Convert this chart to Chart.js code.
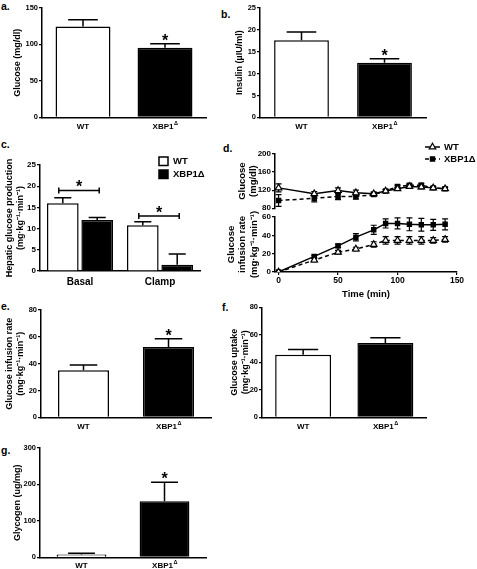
<!DOCTYPE html>
<html>
<head>
<meta charset="utf-8">
<script src="https://cdn.jsdelivr.net/npm/chart.js@4.4.1/dist/chart.umd.min.js"></script>
<style>
  body { margin: 0; background: #fff; width: 477px; height: 569px; position: relative; overflow: hidden;
         font-family: "Liberation Sans", Arial, sans-serif; }
  canvas { position: absolute; }
  .pl { position: absolute; font-weight: bold; font-size: 10.5px; line-height: 10px; }
</style>
</head>
<body>
<div class="pl" style="left:1px;top:1px">a.</div>
<div class="pl" style="left:221px;top:9px">b.</div>
<div class="pl" style="left:1px;top:139px">c.</div>
<div class="pl" style="left:223px;top:143px">d.</div>
<div class="pl" style="left:1px;top:301px">e.</div>
<div class="pl" style="left:222px;top:302px">f.</div>
<div class="pl" style="left:1px;top:445px">g.</div>

<canvas id="pa" width="214" height="135" style="left:0;top:0"></canvas>
<canvas id="pb" width="205" height="135" style="left:228px;top:0"></canvas>
<canvas id="pc" width="210" height="145" style="left:0;top:150px"></canvas>
<canvas id="pd1" width="252" height="74" style="left:225px;top:140px"></canvas>
<canvas id="pd2" width="252" height="99" style="left:225px;top:205px"></canvas>
<canvas id="pe" width="216" height="135" style="left:0;top:300px"></canvas>
<canvas id="pf" width="215" height="135" style="left:220px;top:300px"></canvas>
<canvas id="pg" width="214" height="134" style="left:0;top:435px"></canvas>

<script>
// ---- data ----
const groups = ['WT', 'XBP1Δ'];

// a. fasting glucose (mg/dl)
const glucoseMean = [124.5, 95.6];
const glucoseSem = [9.5, 5.4];

// b. insulin (µIU/ml)
const insulinMean = [17.6, 12.5];
const insulinSem = [1.9, 0.9];

// c. hepatic glucose production
const hgpCats = ['Basal', 'Clamp'];
const hgpWT = [16.0, 10.8];
const hgpWTSem = [1.3, 0.8];
const hgpKO = [12.0, 1.5];
const hgpKOSem = [0.6, 2.5];
const hgpBracket = [19.0, 13.0];

// d. clamp time course
const clampTime = [0, 30, 50, 65, 80, 90, 100, 110, 120, 130, 140];
const clampGluWT = [125, 112, 119, 114, 112, 118, 123, 128, 127, 125, 123];
const clampGluWTSem = [9, 5, 6, 6, 4, 3, 3, 4, 4, 3, 3];
const clampGluKO = [97, 102, 106, 106, 110, 118, 128, 131, 131, 125, 123];
const clampGluKOSem = [13, 8, 7, 6, 4, 3, 3, 3, 4, 3, 3];
const clampGirWT = [0, 13, 21.5, 25, 30, 34.5, 34.5, 34.5, 34.5, 34.5, 35.5];
const clampGirWTSem = [0, 2, 2, 2, 3, 4, 4, 4, 4, 3, 3];
const clampGirKO = [0, 17, 28.5, 38, 46, 53, 53, 52, 51.5, 51.5, 52];
const clampGirKOSem = [0, 1.5, 2, 4, 5, 5, 6, 7, 7, 6, 6];

// e. glucose infusion rate
const girMean = [35, 52.5];
const girSem = [4, 6];

// f. glucose uptake
const uptakeMean = [45.5, 54];
const uptakeSem = [3.8, 3.8];

// g. glycogen (ug/mg)
const glycogenMean = [8, 154];
const glycogenSem = [3, 52];

const FONT = "'Liberation Sans', Arial, sans-serif";
const UNIT = '(mg·kg⁻¹·min⁻¹)';
Chart.defaults.font.family = FONT;
Chart.defaults.font.weight = 'bold';
Chart.defaults.color = '#000';
Chart.defaults.animation = false;

// error bars from dataset.sem, upward for bars, both ways for lines
function errorBars(both) {
  const draw = chart => {
    const ctx = chart.ctx;
    chart.data.datasets.forEach((ds, di) => {
      if (!ds.sem) return;
      const meta = chart.getDatasetMeta(di);
      const ys = chart.scales[meta.yAxisID];
      meta.data.forEach((el, i) => {
        const e = ds.sem[i];
        if (!e) return;
        const v = typeof ds.data[i] === 'object' ? ds.data[i].y : ds.data[i];
        const top = ys.getPixelForValue(v + e);
        const bot = both ? ys.getPixelForValue(v - e) : el.y;
        const half = both ? 3 : el.width * 0.27;
        ctx.save();
        ctx.strokeStyle = '#000';
        ctx.lineWidth = both ? 1.2 : 1.5;
        ctx.beginPath();
        ctx.moveTo(el.x, bot); ctx.lineTo(el.x, top);
        ctx.moveTo(el.x - half, top); ctx.lineTo(el.x + half, top);
        if (both) { ctx.moveTo(el.x - half, bot); ctx.lineTo(el.x + half, bot); }
        ctx.stroke();
        ctx.restore();
      });
    });
  };
  return both ? { id: 'errorBars', beforeDatasetsDraw: draw } : { id: 'errorBars', afterDatasetsDraw: draw };
}

function drawStar(ctx, x, yCenter) {
  ctx.save();
  ctx.fillStyle = '#000';
  ctx.font = 'bold 16px ' + FONT;
  ctx.textAlign = 'center';
  ctx.textBaseline = 'middle';
  ctx.fillText('*', x, yCenter + 3.5);
  ctx.restore();
}

// star above the error cap of the chosen bar
function stars(list) {
  return {
    id: 'stars',
    afterDatasetsDraw(chart) {
      list.forEach(s => {
        const ds = chart.data.datasets[s.d];
        const el = chart.getDatasetMeta(s.d).data[s.i];
        const y = chart.scales.y.getPixelForValue(ds.data[s.i] + ds.sem[s.i]);
        drawStar(chart.ctx, el.x, y - 6);
      });
    }
  };
}

// category labels, with the Δ of XBP1Δ raised
function groupLabels(size, pad) {
  return {
    id: 'groupLabels',
    afterDraw(chart) {
      const ctx = chart.ctx, xs = chart.scales.x;
      chart.data.labels.forEach((lab, i) => {
        const x = xs.getPixelForTick(i);
        const y = xs.top + pad + size * 0.6;
        const sup = lab.endsWith('Δ');
        const base = sup ? lab.slice(0, -1) : lab;
        ctx.save();
        ctx.fillStyle = '#000';
        ctx.textBaseline = 'middle';
        ctx.textAlign = 'left';
        ctx.font = 'bold ' + size + 'px ' + FONT;
        const w1 = ctx.measureText(base).width;
        let w2 = 0;
        if (sup) {
          ctx.font = 'bold ' + (size * 0.7) + 'px ' + FONT;
          w2 = ctx.measureText('Δ').width;
        }
        const x0 = x - (w1 + w2) / 2;
        ctx.font = 'bold ' + size + 'px ' + FONT;
        ctx.fillText(base, x0, y);
        if (sup) {
          ctx.font = 'bold ' + (size * 0.7) + 'px ' + FONT;
          ctx.fillText('Δ', x0 + w1 + 0.5, y - size * 0.45);
        }
        ctx.restore();
      });
    }
  };
}

function yAxis(o) {
  return {
    min: o.min || 0, max: o.max,
    ticks: { stepSize: o.step, font: { size: o.tick }, padding: 1, color: '#000' },
    grid: { drawOnChartArea: false, tickLength: 3, color: '#000', lineWidth: 1.2 },
    border: { display: true, color: '#000', width: 1.5 },
    title: { display: true, text: o.title, color: '#000',
             font: { size: o.tsize, lineHeight: o.lh || 1.2 }, padding: { top: o.tpad, bottom: 0 } },
    afterFit: s => { s.width = o.w; }
  };
}

function barPanel(id, o) {
  return new Chart(document.getElementById(id), {
    type: 'bar',
    data: { labels: o.labels, datasets: o.datasets },
    options: {
      responsive: false, devicePixelRatio: 1,
      layout: { padding: { top: o.padTop, right: o.padRight, left: 0, bottom: 0 } },
      datasets: { bar: { categoryPercentage: o.cat || 1, barPercentage: o.bar } },
      scales: {
        x: {
          grid: { display: false, drawTicks: false },
          border: { display: true, color: '#000', width: 1.5 },
          ticks: { color: 'rgba(0,0,0,0)', font: { size: o.xsize }, padding: o.xpad, maxRotation: 0 },
          afterFit: s => { s.height = o.xh; }
        },
        y: yAxis(o.y)
      },
      plugins: { legend: { display: false }, tooltip: { enabled: false } }
    },
    plugins: [errorBars(false), groupLabels(o.xsize, o.xpad)].concat(o.extra || [])
  });
}

function groupSet(mean, sem) {
  return [{ data: mean, sem: sem, backgroundColor: ['#fff', '#000'], borderColor: '#000', borderWidth: 1.5 }];
}

// a.
barPanel('pa', {
  labels: groups, datasets: groupSet(glucoseMean, glucoseSem), bar: 0.67,
  padTop: 8, padRight: 8, xh: 17.7, xsize: 8, xpad: 5,
  y: { max: 150, step: 50, tick: 7.5, title: 'Glucose (mg/dl)', tsize: 9, tpad: 12, w: 42 },
  extra: [stars([{ d: 0, i: 1 }])]
});

// b.
barPanel('pb', {
  labels: groups, datasets: groupSet(insulinMean, insulinSem), bar: 0.66,
  padTop: 8, padRight: 7, xh: 17.7, xsize: 8, xpad: 5,
  y: { max: 25, step: 5, tick: 7.5, title: 'Insulin (µIU/ml)', tsize: 9, tpad: 6, w: 32 },
  extra: [stars([{ d: 0, i: 1 }])]
});

// c.
const hgpExtras = {
  id: 'hgpExtras',
  afterDraw(chart) {
    const ctx = chart.ctx, ys = chart.scales.y, ca = chart.chartArea;
    const m0 = chart.getDatasetMeta(0).data, m1 = chart.getDatasetMeta(1).data;
    ctx.save();
    ctx.strokeStyle = '#000';
    ctx.lineWidth = 1.5;
    hgpBracket.forEach((v, i) => {
      const y = ys.getPixelForValue(v), x1 = m0[i].x - 4, x2 = m1[i].x + 2;
      ctx.beginPath();
      ctx.moveTo(x1, y); ctx.lineTo(x2, y);
      ctx.moveTo(x1, y - 3); ctx.lineTo(x1, y + 3);
      ctx.moveTo(x2, y - 3); ctx.lineTo(x2, y + 3);
      ctx.stroke();
      drawStar(ctx, (x1 + x2) / 2, y - 6);
    });
    // legend
    const lx = ca.right - 41;
    chart.data.datasets.forEach((ds, i) => {
      const ty = 11 + i * 13;
      ctx.fillStyle = ds.backgroundColor;
      ctx.fillRect(lx, ty - 4, 9, 8.5);
      ctx.strokeRect(lx, ty - 4, 9, 8.5);
      ctx.fillStyle = '#000';
      ctx.font = 'bold 9.5px ' + FONT;
      ctx.textBaseline = 'middle';
      ctx.textAlign = 'left';
      ctx.fillText(ds.label, lx + 14, ty);
    });
    ctx.restore();
  }
};
barPanel('pc', {
  labels: hgpCats,
  datasets: [
    { label: 'WT', data: hgpWT, sem: hgpWTSem, backgroundColor: '#fff', borderColor: '#000', borderWidth: 1.5 },
    { label: 'XBP1Δ', data: hgpKO, sem: hgpKOSem, backgroundColor: '#000', borderColor: '#000', borderWidth: 1.5 }
  ],
  cat: 0.86, bar: 0.92,
  padTop: 15, padRight: 10, xh: 24, xsize: 10, xpad: 5,
  y: { max: 25, step: 5, tick: 8, title: ['Hepatic glucose production', UNIT], tsize: 9, tpad: 4, w: 40 },
  extra: [hgpExtras]
});

// d. two panels sharing the time axis
function lineSet(label, x, y, sem, dashed, square) {
  return {
    label: label,
    data: x.map((t, i) => ({ x: t, y: y[i] })),
    sem: sem,
    borderColor: '#000', borderWidth: 1.5, borderDash: dashed ? [4, 3] : [],
    pointStyle: square ? 'rect' : 'triangle',
    pointRadius: square ? 3 : 3.8,
    pointBackgroundColor: square ? '#000' : '#fff',
    pointBorderColor: '#000', pointBorderWidth: 1.2
  };
}
const timeMin = -3, timeMax = 150;
const clampLegend = {
  id: 'clampLegend',
  afterDraw(chart) {
    const ctx = chart.ctx, ca = chart.chartArea;
    const x0 = ca.right - 32;
    chart.data.datasets.forEach((ds, i) => {
      const y = 7 + i * 12;
      ctx.save();
      ctx.strokeStyle = '#000';
      ctx.lineWidth = 1.5;
      ctx.setLineDash(ds.borderDash);
      ctx.beginPath(); ctx.moveTo(x0, y); ctx.lineTo(x0 + 15, y); ctx.stroke();
      ctx.setLineDash([]);
      ctx.fillStyle = ds.pointBackgroundColor;
      ctx.lineWidth = 1.2;
      Chart.helpers.drawPoint(ctx, { pointStyle: ds.pointStyle, radius: ds.pointRadius, borderWidth: 1.2 }, x0 + 7.5, y);
      ctx.fillStyle = '#000';
      ctx.font = 'bold 9.5px ' + FONT;
      ctx.textBaseline = 'middle';
      ctx.textAlign = 'left';
      ctx.fillText(ds.label, x0 + 19, y);
      ctx.restore();
    });
  }
};

new Chart(document.getElementById('pd1'), {
  type: 'line',
  data: { datasets: [
    lineSet('WT', clampTime, clampGluWT, clampGluWTSem, false, false),
    lineSet('XBP1Δ', clampTime, clampGluKO, clampGluKOSem, true, true)
  ] },
  options: {
    responsive: false, devicePixelRatio: 1,
    layout: { padding: { top: 14, right: 20, left: 0, bottom: 5 } },
    scales: {
      x: { type: 'linear', min: timeMin, max: timeMax, display: false },
      y: yAxis({ min: 80, max: 200, step: 40, tick: 8, title: ['Glucose', '(mg/dl)'], tsize: 9.5, lh: 1.25, tpad: 11, w: 50 })
    },
    plugins: { legend: { display: false }, tooltip: { enabled: false } }
  },
  plugins: [errorBars(true), clampLegend]
});

new Chart(document.getElementById('pd2'), {
  type: 'line',
  data: { datasets: [
    lineSet('WT', clampTime, clampGirWT, clampGirWTSem, true, false),
    lineSet('XBP1Δ', clampTime, clampGirKO, clampGirKOSem, false, true)
  ] },
  options: {
    responsive: false, devicePixelRatio: 1,
    layout: { padding: { top: 12, right: 20, left: 0, bottom: 0 } },
    scales: {
      x: {
        type: 'linear', min: timeMin, max: timeMax,
        afterBuildTicks: s => { s.ticks = [0, 50, 100, 150].map(v => ({ value: v })); },
        ticks: { font: { size: 8.5 }, padding: 1, color: '#000' },
        grid: { drawOnChartArea: false, tickLength: 3, color: '#000', lineWidth: 1.2 },
        border: { display: true, color: '#000', width: 1.5 },
        title: { display: true, text: 'Time (min)', font: { size: 9.5 }, padding: { top: 0, bottom: 4 } },
        afterFit: s => { s.height = 32; }
      },
      y: yAxis({ min: 0, max: 60, step: 20, tick: 8, title: ['Glucose', 'infusion rate', UNIT], tsize: 9.5, lh: 1.25, tpad: 0, w: 50 })
    },
    plugins: { legend: { display: false }, tooltip: { enabled: false } }
  },
  plugins: [errorBars(true)]
});

// e.
barPanel('pe', {
  labels: groups, datasets: groupSet(girMean, girSem), bar: 0.6,
  padTop: 10, padRight: 5, xh: 17.7, xsize: 8, xpad: 5,
  y: { max: 80, step: 20, tick: 7.5, title: ['Glucose infusion rate', UNIT], tsize: 9, tpad: 4, w: 41 },
  extra: [stars([{ d: 0, i: 1 }])]
});

// f.
barPanel('pf', {
  labels: groups, datasets: groupSet(uptakeMean, uptakeSem), bar: 0.68,
  padTop: 7.3, padRight: 8.5, xh: 17.7, xsize: 8, xpad: 5,
  y: { max: 80, step: 20, tick: 7.5, title: ['Glucose uptake', UNIT], tsize: 9, tpad: 9, w: 42 }
});

// g.
barPanel('pg', {
  labels: groups, datasets: groupSet(glycogenMean, glycogenSem), bar: 0.6,
  padTop: 13, padRight: 8, xh: 11.7, xsize: 8, xpad: 4,
  y: { max: 300, step: 100, tick: 7.5, title: 'Glycogen (ug/mg)', tsize: 9, tpad: 12, w: 40 },
  extra: [stars([{ d: 0, i: 1 }])]
});
</script>
</body>
</html>
